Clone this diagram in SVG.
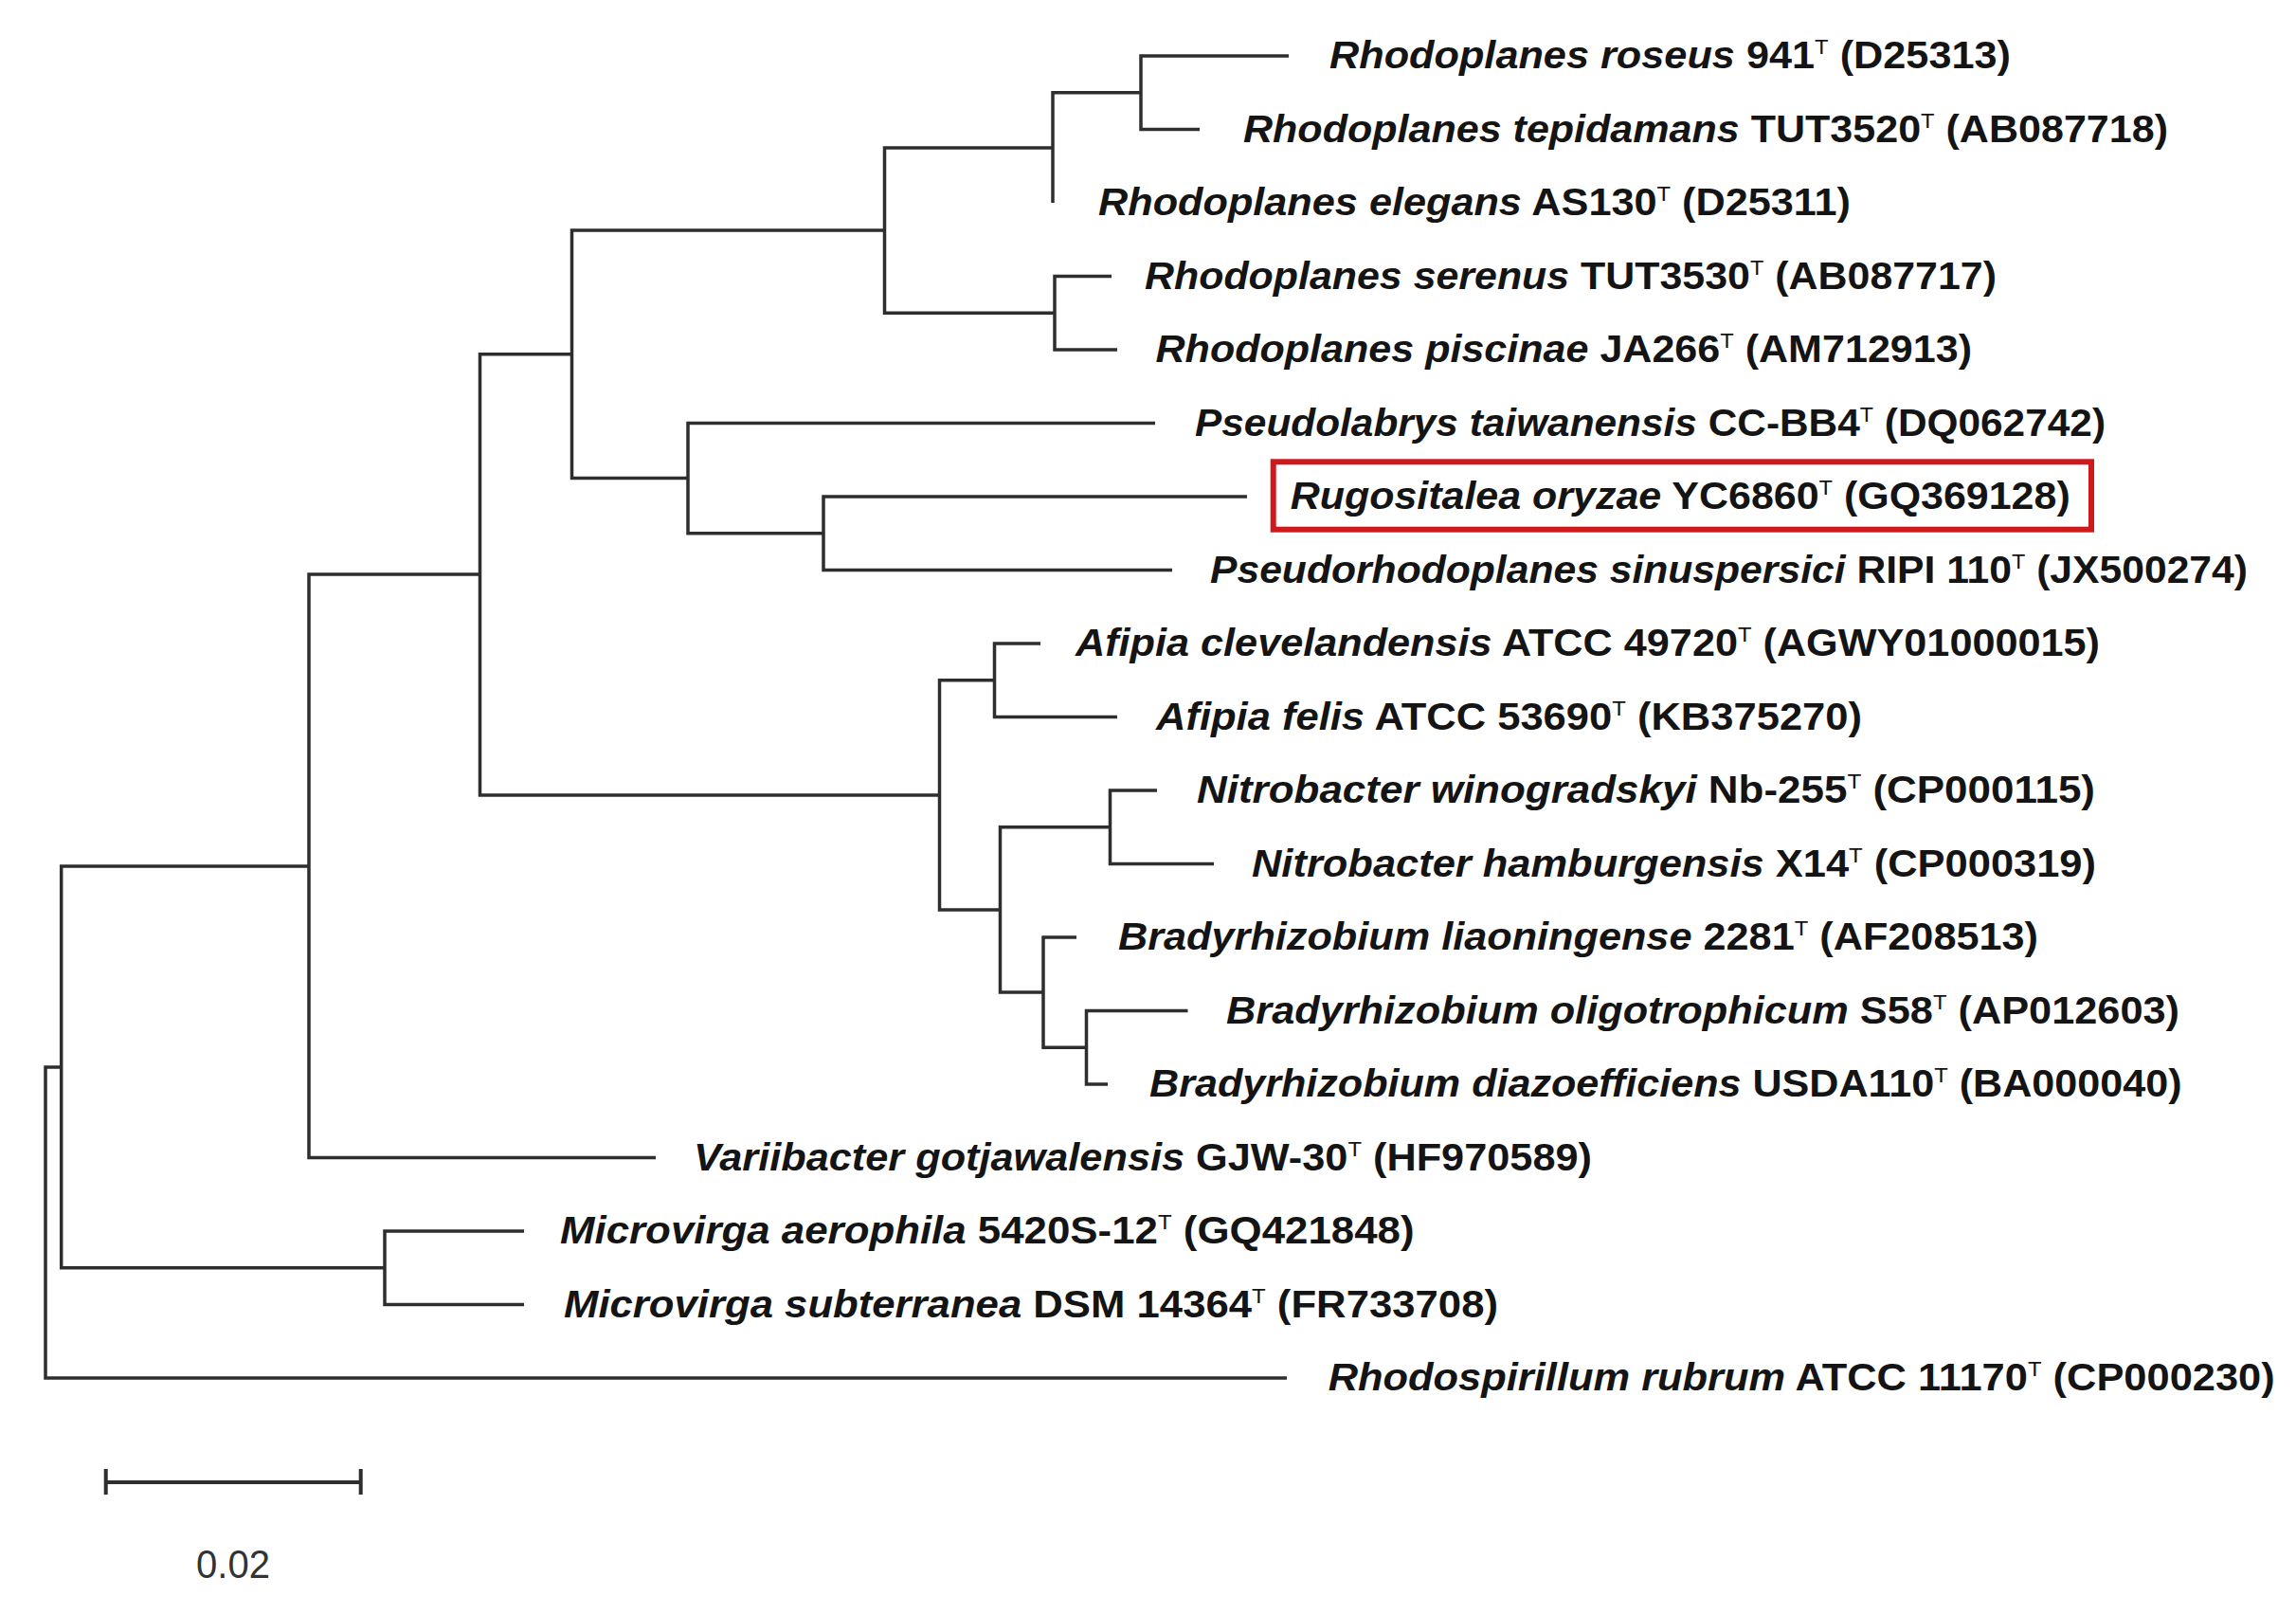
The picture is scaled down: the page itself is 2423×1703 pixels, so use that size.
<svg xmlns="http://www.w3.org/2000/svg" width="2423" height="1703" viewBox="0 0 2423 1703">
<style>
  .br { fill: none; stroke: #2e2e2e; stroke-width: 3.5; stroke-linejoin: miter; }
  .lab { font-family: "Liberation Sans", Arial, sans-serif; font-size: 40px; font-weight: bold; fill: #141414; }
  .i { font-style: italic; }
  .sup { font-size: 22px; font-weight: normal; }
  .box { fill: none; stroke: #cc1a1d; stroke-width: 6; }
  .scale { fill: none; stroke: #2e2e2e; stroke-width: 4; }
  .num { font-family: "Liberation Sans", Arial, sans-serif; font-size: 42px; fill: #333; }
</style>
<rect width="2423" height="1703" fill="#ffffff"/>
<g id="connectors">
  <path class="br" d="M 64.7 1126 H 48 V 1454 H 1358"/>
  <path class="br" d="M 326 914 H 64.7 V 1337.75 H 406"/>
  <path class="br" d="M 506.5 606 H 326 V 1221.5 H 692"/>
  <path class="br" d="M 553 1299 H 406 V 1376.5 H 553"/>
  <path class="br" d="M 603.5 373.8 H 506.5 V 838.9 H 991.5"/>
  <path class="br" d="M 933.5 243 H 603.5 V 504.6 H 726"/>
  <path class="br" d="M 1111 155.9 H 933.5 V 330.25 H 1113"/>
  <path class="br" d="M 1204 97.75 H 1111 V 214"/>
  <path class="br" d="M 1360 59 H 1204 V 136.5 H 1266"/>
  <path class="br" d="M 1173 291.5 H 1113 V 369 H 1179"/>
  <path class="br" d="M 1219 446.5 H 726 V 562.75 H 869"/>
  <path class="br" d="M 1316 524 H 869 V 601.5 H 1237"/>
  <path class="br" d="M 1049.5 717.75 H 991.5 V 960 H 1055.5"/>
  <path class="br" d="M 1098 679 H 1049.5 V 756.5 H 1179"/>
  <path class="br" d="M 1171.5 872.75 H 1055.5 V 1047 H 1101"/>
  <path class="br" d="M 1221 834 H 1171.5 V 911.5 H 1281"/>
  <path class="br" d="M 1136 989 H 1101 V 1105.25 H 1146.5"/>
  <path class="br" d="M 1253.5 1066.5 H 1146.5 V 1144 H 1169"/>
</g>
<g id="leaf-roseus"><text class="lab" x="1403" y="72" textLength="719" lengthAdjust="spacingAndGlyphs"><tspan class="i">Rhodoplanes roseus</tspan> 941<tspan class="sup" dy="-15">T</tspan><tspan dy="15"> (D25313)</tspan></text></g>
<g id="leaf-tepidamans"><text class="lab" x="1312" y="149.5" textLength="976" lengthAdjust="spacingAndGlyphs"><tspan class="i">Rhodoplanes tepidamans</tspan> TUT3520<tspan class="sup" dy="-15">T</tspan><tspan dy="15"> (AB087718)</tspan></text></g>
<g id="leaf-elegans"><text class="lab" x="1159" y="227" textLength="794" lengthAdjust="spacingAndGlyphs"><tspan class="i">Rhodoplanes elegans</tspan> AS130<tspan class="sup" dy="-15">T</tspan><tspan dy="15"> (D25311)</tspan></text></g>
<g id="leaf-serenus"><text class="lab" x="1208" y="304.5" textLength="899" lengthAdjust="spacingAndGlyphs"><tspan class="i">Rhodoplanes serenus</tspan> TUT3530<tspan class="sup" dy="-15">T</tspan><tspan dy="15"> (AB087717)</tspan></text></g>
<g id="leaf-piscinae"><text class="lab" x="1219.5" y="382" textLength="861.5" lengthAdjust="spacingAndGlyphs"><tspan class="i">Rhodoplanes piscinae</tspan> JA266<tspan class="sup" dy="-15">T</tspan><tspan dy="15"> (AM712913)</tspan></text></g>
<g id="leaf-pseudolabrys"><text class="lab" x="1261" y="459.5" textLength="961" lengthAdjust="spacingAndGlyphs"><tspan class="i">Pseudolabrys taiwanensis</tspan> CC-BB4<tspan class="sup" dy="-15">T</tspan><tspan dy="15"> (DQ062742)</tspan></text></g>
<g id="leaf-rugositalea">
  <rect class="box" x="1343.7" y="487.3" width="863.3" height="71.4"/>
  <text class="lab" x="1361.7" y="537" textLength="823" lengthAdjust="spacingAndGlyphs"><tspan class="i">Rugositalea oryzae</tspan> YC6860<tspan class="sup" dy="-15">T</tspan><tspan dy="15"> (GQ369128)</tspan></text>
</g>
<g id="leaf-pseudorhodoplanes"><text class="lab" x="1277" y="614.5" textLength="1095" lengthAdjust="spacingAndGlyphs"><tspan class="i">Pseudorhodoplanes sinuspersici</tspan> RIPI 110<tspan class="sup" dy="-15">T</tspan><tspan dy="15"> (JX500274)</tspan></text></g>
<g id="leaf-afipia-clevelandensis"><text class="lab" x="1135" y="692" textLength="1081" lengthAdjust="spacingAndGlyphs"><tspan class="i">Afipia clevelandensis</tspan> ATCC 49720<tspan class="sup" dy="-15">T</tspan><tspan dy="15"> (AGWY01000015)</tspan></text></g>
<g id="leaf-afipia-felis"><text class="lab" x="1220" y="769.5" textLength="745" lengthAdjust="spacingAndGlyphs"><tspan class="i">Afipia felis</tspan> ATCC 53690<tspan class="sup" dy="-15">T</tspan><tspan dy="15"> (KB375270)</tspan></text></g>
<g id="leaf-nitrobacter-winogradskyi"><text class="lab" x="1263" y="847" textLength="948" lengthAdjust="spacingAndGlyphs"><tspan class="i">Nitrobacter winogradskyi</tspan> Nb-255<tspan class="sup" dy="-15">T</tspan><tspan dy="15"> (CP000115)</tspan></text></g>
<g id="leaf-nitrobacter-hamburgensis"><text class="lab" x="1321" y="924.5" textLength="891" lengthAdjust="spacingAndGlyphs"><tspan class="i">Nitrobacter hamburgensis</tspan> X14<tspan class="sup" dy="-15">T</tspan><tspan dy="15"> (CP000319)</tspan></text></g>
<g id="leaf-bradyrhizobium-liaoningense"><text class="lab" x="1180" y="1002" textLength="971" lengthAdjust="spacingAndGlyphs"><tspan class="i">Bradyrhizobium liaoningense</tspan> 2281<tspan class="sup" dy="-15">T</tspan><tspan dy="15"> (AF208513)</tspan></text></g>
<g id="leaf-bradyrhizobium-oligotrophicum"><text class="lab" x="1294" y="1079.5" textLength="1006" lengthAdjust="spacingAndGlyphs"><tspan class="i">Bradyrhizobium oligotrophicum</tspan> S58<tspan class="sup" dy="-15">T</tspan><tspan dy="15"> (AP012603)</tspan></text></g>
<g id="leaf-bradyrhizobium-diazoefficiens"><text class="lab" x="1213" y="1157" textLength="1089.5" lengthAdjust="spacingAndGlyphs"><tspan class="i">Bradyrhizobium diazoefficiens</tspan> USDA110<tspan class="sup" dy="-15">T</tspan><tspan dy="15"> (BA000040)</tspan></text></g>
<g id="leaf-variibacter"><text class="lab" x="732" y="1234.5" textLength="948" lengthAdjust="spacingAndGlyphs"><tspan class="i">Variibacter gotjawalensis</tspan> GJW-30<tspan class="sup" dy="-15">T</tspan><tspan dy="15"> (HF970589)</tspan></text></g>
<g id="leaf-microvirga-aerophila"><text class="lab" x="591" y="1312" textLength="901.5" lengthAdjust="spacingAndGlyphs"><tspan class="i">Microvirga aerophila</tspan> 5420S-12<tspan class="sup" dy="-15">T</tspan><tspan dy="15"> (GQ421848)</tspan></text></g>
<g id="leaf-microvirga-subterranea"><text class="lab" x="595" y="1389.5" textLength="986" lengthAdjust="spacingAndGlyphs"><tspan class="i">Microvirga subterranea</tspan> DSM 14364<tspan class="sup" dy="-15">T</tspan><tspan dy="15"> (FR733708)</tspan></text></g>
<g id="leaf-rhodospirillum"><text class="lab" x="1401.7" y="1467" textLength="999" lengthAdjust="spacingAndGlyphs"><tspan class="i">Rhodospirillum rubrum</tspan> ATCC 11170<tspan class="sup" dy="-15">T</tspan><tspan dy="15"> (CP000230)</tspan></text></g>
<g id="scale-bar">
  <path class="scale" d="M 111.7 1564 H 380.7 M 111.7 1550 V 1577 M 380.7 1550 V 1577"/>
  <text class="num" x="246" y="1665" text-anchor="middle" textLength="78" lengthAdjust="spacingAndGlyphs">0.02</text>
</g>
</svg>
